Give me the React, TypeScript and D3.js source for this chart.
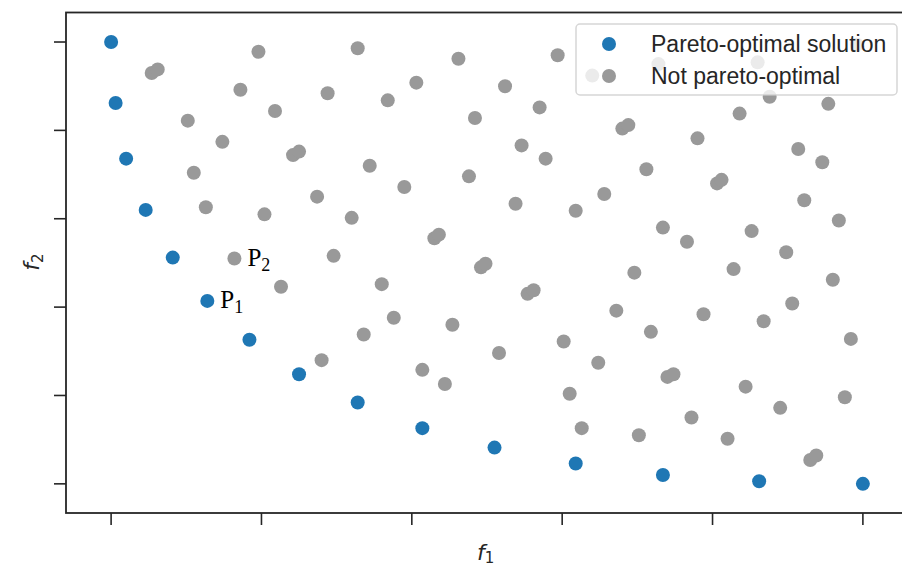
import { scaleLinear } from 'd3'

// tick positions (no tick labels drawn in the figure)
const xTicks = [0, 1, 2, 3, 4, 5]
const yTicks = [0, 1, 2, 3, 4, 5]

// Pareto front
const paretoF1 = [0, 0.03, 0.1, 0.23, 0.41, 0.64, 0.92, 1.25, 1.64, 2.07, 2.55, 3.09, 3.67, 4.31, 5.0]
const paretoF2 = [5.0, 4.31, 3.68, 3.1, 2.56, 2.07, 1.63, 1.24, 0.92, 0.63, 0.41, 0.23, 0.1, 0.03, 0]

// dominated solutions
const otherF1 = [
  0.27, 0.31, 0.98, 1.64, 0.86, 1.44, 1.09, 0.51, 0.74, 1.21, 1.25, 1.72, 0.55, 1.37, 0.63, 1.02,
  1.6, 1.48, 0.82, 2.31, 2.97, 2.03, 1.84, 2.62, 2.85, 2.42, 3.4, 3.44, 2.73, 2.89, 2.38, 1.95,
  3.56, 3.28, 2.69, 3.09, 2.15, 2.18, 3.2, 3.64, 4.3, 4.96, 4.38, 4.18, 4.77, 3.9, 4.57, 4.73,
  4.03, 4.06, 4.61, 4.84, 3.67, 3.83, 4.26, 4.49, 1.13, 1.68, 1.4, 2.46, 2.49, 1.8, 1.88, 2.27,
  2.58, 2.07, 2.22, 3.48, 3.36, 3.01, 3.24, 3.05, 3.13, 3.51, 2.77, 2.81, 4.14, 4.8, 3.94, 4.53,
  4.34, 3.59, 4.92, 3.7, 3.74, 4.22, 4.88, 4.45, 3.86, 4.1, 4.65, 4.69,
]
const otherF2 = [
  4.65, 4.69, 4.89, 4.93, 4.46, 4.42, 4.22, 4.11, 3.87, 3.72, 3.76, 3.6, 3.52, 3.25, 3.13, 3.05,
  3.01, 2.58, 2.55, 4.81, 4.85, 4.54, 4.34, 4.5, 4.26, 4.14, 4.02, 4.06, 3.83, 3.68, 3.48, 3.36,
  3.56, 3.28, 3.17, 3.09, 2.78, 2.82, 4.62, 4.75, 4.77, 4.97, 4.38, 4.19, 4.3, 3.91, 3.79, 3.64,
  3.4, 3.44, 3.21, 2.98, 2.9, 2.74, 2.86, 2.62, 2.23, 1.69, 1.4, 2.45, 2.49, 2.26, 1.88, 1.8,
  1.48, 1.29, 1.13, 2.39, 1.96, 1.61, 1.37, 1.02, 0.63, 0.55, 2.15, 2.19, 2.43, 2.31, 1.92, 2.04,
  1.84, 1.72, 1.64, 1.21, 1.24, 1.1, 0.98, 0.86, 0.75, 0.51, 0.27, 0.32,
]

const annotations = [
  { name: 'P', sub: '1', f1: 0.64, f2: 2.07 },
  { name: 'P', sub: '2', f1: 0.82, f2: 2.55 },
]

const legendItems = [
  { label: 'Pareto-optimal solution', color: '#1f77b4' },
  { label: 'Not pareto-optimal', color: '#999999' },
]

export default function App() {
  const width = 902
  const height = 568
  const left = 66
  const top = 12.5
  const right = 908
  const bottom = 513
  const ink = '#262626'
  const radius = 7

  const xScale = scaleLinear().domain([-0.3, 5.3]).range([left, right])
  const yScale = scaleLinear().domain([-0.33, 5.334]).range([bottom, top])

  return (
    <div style={{ position: 'absolute', left: 0, top: 0 }}>
      <svg width={width} height={height} style={{ display: 'block', background: '#fff' }}>
        {paretoF1.map((f1, i) => (
          <circle key={`p-${i}`} cx={xScale(f1)} cy={yScale(paretoF2[i])} r={radius} fill="#1f77b4" />
        ))}
        {otherF1.map((f1, i) => (
          <circle key={`o-${i}`} cx={xScale(f1)} cy={yScale(otherF2[i])} r={radius} fill="#999999" />
        ))}

        {annotations.map((a) => (
          <text
            key={a.sub}
            x={xScale(a.f1) + 13}
            y={yScale(a.f2) + 7}
            fontFamily="'Liberation Serif', 'Times New Roman', serif"
            fontSize={25}
            fill="#000"
          >
            {a.name}
            <tspan fontSize={18} dy={5}>
              {a.sub}
            </tspan>
          </text>
        ))}

        {/* spines */}
        <rect
          x={left}
          y={top}
          width={right - left}
          height={bottom - top}
          fill="none"
          stroke={ink}
          strokeWidth={1.8}
        />

        {xTicks.map((t) => (
          <line key={`xt-${t}`} x1={xScale(t)} x2={xScale(t)} y1={bottom} y2={bottom + 12} stroke={ink} strokeWidth={1.6} />
        ))}
        {yTicks.map((t) => (
          <line key={`yt-${t}`} x1={left - 12} x2={left} y1={yScale(t)} y2={yScale(t)} stroke={ink} strokeWidth={1.6} />
        ))}

        {/* axis labels */}
        <text x={(left + right) / 2 - 10} y={560} fontFamily="'DejaVu Sans', sans-serif" fontSize={22} fill={ink}>
          <tspan fontStyle="italic">f</tspan>
          <tspan fontSize={15} dy={3}>
            1
          </tspan>
        </text>
        <text
          transform={`translate(39, ${(top + bottom) / 2 + 8}) rotate(-90)`}
          fontFamily="'DejaVu Sans', sans-serif"
          fontSize={22}
          fill={ink}
        >
          <tspan fontStyle="italic">f</tspan>
          <tspan fontSize={15} dy={4}>
            2
          </tspan>
        </text>

        {/* legend */}
        <g>
          <rect
            x={576}
            y={24}
            width={321}
            height={71}
            rx={4}
            fill="#ffffff"
            fillOpacity={0.8}
            stroke="#cccccc"
            strokeOpacity={0.8}
            strokeWidth={1.5}
          />
          {legendItems.map((item, i) => (
            <g key={item.label} transform={`translate(0, ${i * 32})`}>
              <circle cx={609} cy={44} r={radius} fill={item.color} />
              <text
                x={651}
                y={51.5}
                fontFamily="'Liberation Sans', Arial, sans-serif"
                fontSize={23}
                fill={ink}
              >
                {item.label}
              </text>
            </g>
          ))}
        </g>
      </svg>
    </div>
  )
}
